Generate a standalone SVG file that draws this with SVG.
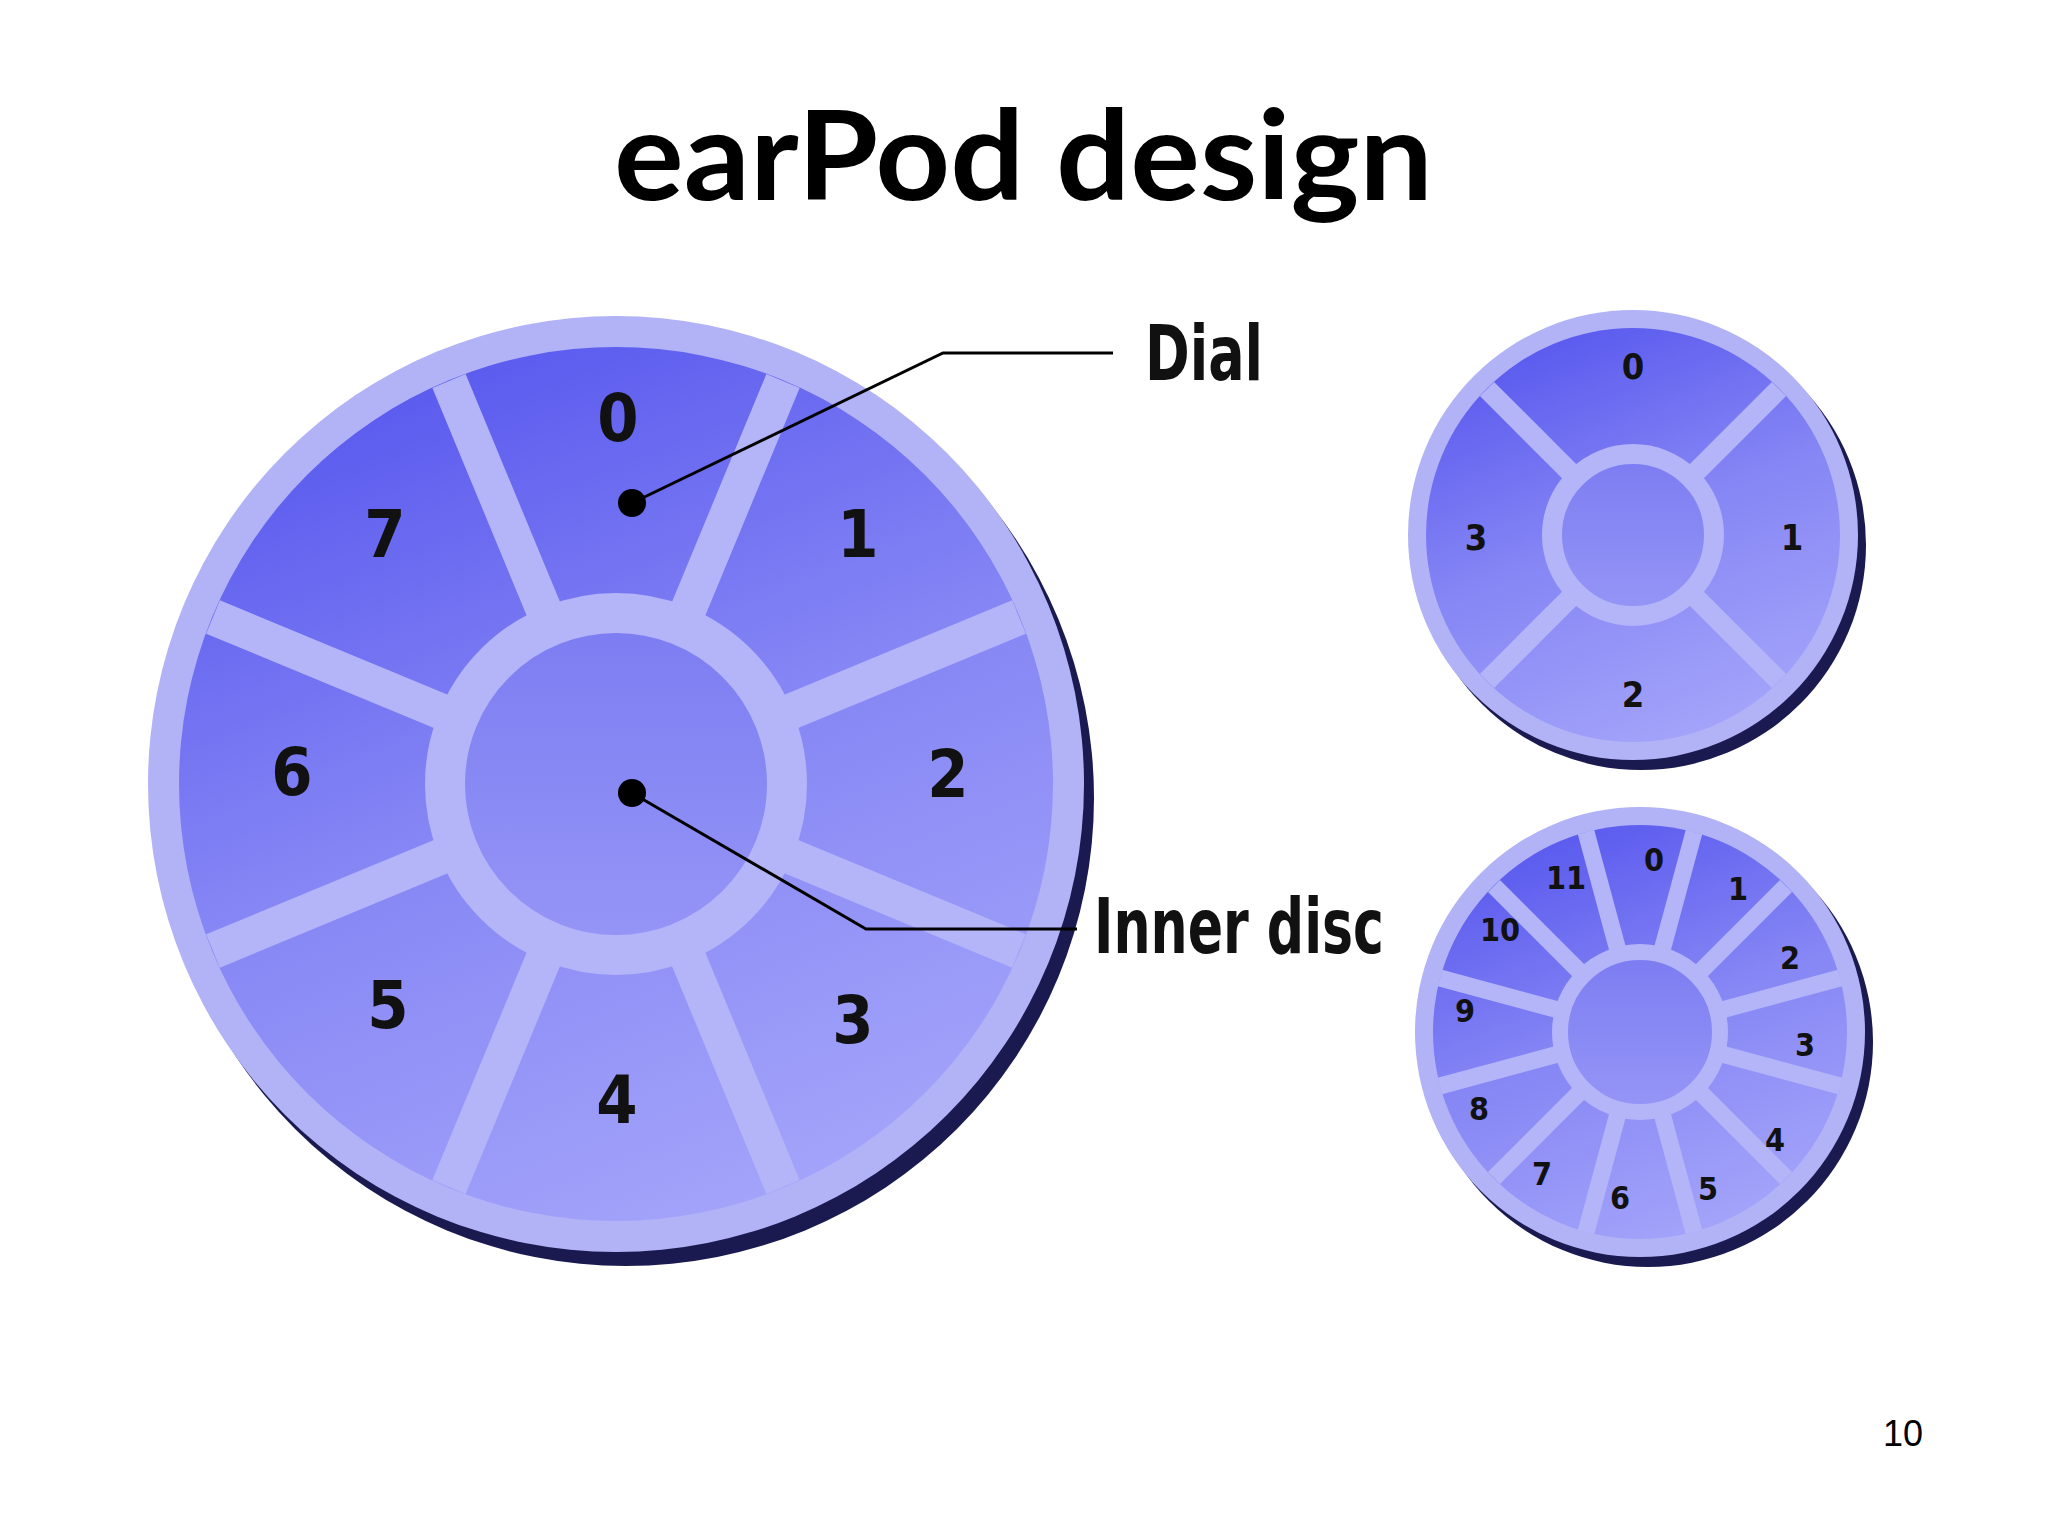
<svg xmlns="http://www.w3.org/2000/svg" width="2048" height="1536" viewBox="0 0 2048 1536">
<defs>
<linearGradient id="g" x1="0.2" y1="0" x2="0.6" y2="1"><stop offset="0" stop-color="#5555ee"/><stop offset="0.5" stop-color="#8585f5"/><stop offset="1" stop-color="#a3a3fa"/></linearGradient>
<linearGradient id="gi" x1="0" y1="0" x2="0" y2="1"><stop offset="0" stop-color="#7c7cf2"/><stop offset="1" stop-color="#9696f7"/></linearGradient>
</defs>
<style>
.rim{fill:#b2b2f7}.face{fill:url(#g)}.sp{stroke:#b4b4f8;stroke-linecap:butt}
.ring{fill:url(#gi);stroke:#b4b4f8}.sh{fill:#1a1a50}
.n{font-family:"DejaVu Sans Condensed","DejaVu Sans",sans-serif;font-weight:bold;fill:#111;text-anchor:middle;dominant-baseline:central}
.lbl{font-family:"DejaVu Sans Condensed","DejaVu Sans",sans-serif;font-weight:bold;fill:#111}
.ln{stroke:#000;stroke-width:3;fill:none}
</style>
<rect width="2048" height="1536" fill="#fff"/>
<text x="614" y="200" font-family="Lato,sans-serif" font-weight="bold" font-size="124" textLength="819" lengthAdjust="spacingAndGlyphs" fill="#000">earPod design</text>

<g id="big">
<circle cx="626" cy="798" r="468" class="sh"/>
<circle cx="616" cy="784" r="468" class="rim"/>
<circle cx="616" cy="784" r="437" class="face"/>
<g class="sp" stroke-width="36">
<line x1="616" y1="784" x2="449" y2="381"/><line x1="616" y1="784" x2="783" y2="381"/>
<line x1="616" y1="784" x2="1019" y2="617"/><line x1="616" y1="784" x2="1019" y2="951"/>
<line x1="616" y1="784" x2="783" y2="1187"/><line x1="616" y1="784" x2="449" y2="1187"/>
<line x1="616" y1="784" x2="213" y2="951"/><line x1="616" y1="784" x2="213" y2="617"/>
</g>
<circle cx="616" cy="784" r="171" class="ring" stroke-width="40"/>
<g class="n" font-size="66">
<text x="618" y="418">0</text><text x="858" y="534">1</text><text x="948" y="774">2</text><text x="853" y="1020">3</text>
<text x="617" y="1100">4</text><text x="388" y="1005">5</text><text x="292" y="772">6</text><text x="385" y="534">7</text>
</g>
</g>

<g id="small4">
<circle cx="1641" cy="545" r="225" class="sh"/>
<circle cx="1633" cy="535" r="225" class="rim"/>
<circle cx="1633" cy="535" r="207" class="face"/>
<g class="sp" stroke-width="20">
<line x1="1633" y1="535" x2="1487" y2="389"/><line x1="1633" y1="535" x2="1779" y2="389"/>
<line x1="1633" y1="535" x2="1779" y2="681"/><line x1="1633" y1="535" x2="1487" y2="681"/>
</g>
<circle cx="1633" cy="535" r="81" class="ring" stroke-width="20"/>
<g class="n" font-size="36">
<text x="1633" y="366">0</text><text x="1792" y="537">1</text><text x="1633" y="694">2</text><text x="1476" y="537">3</text>
</g>
</g>

<g id="small12">
<circle cx="1648" cy="1042" r="225" class="sh"/>
<circle cx="1640" cy="1032" r="225" class="rim"/>
<circle cx="1640" cy="1032" r="207" class="face"/>
<g class="sp" stroke-width="17">
<line x1="1640" y1="1032" x2="1694" y2="832"/><line x1="1640" y1="1032" x2="1786" y2="886"/>
<line x1="1640" y1="1032" x2="1840" y2="978"/><line x1="1640" y1="1032" x2="1840" y2="1086"/>
<line x1="1640" y1="1032" x2="1786" y2="1178"/><line x1="1640" y1="1032" x2="1694" y2="1232"/>
<line x1="1640" y1="1032" x2="1586" y2="1232"/><line x1="1640" y1="1032" x2="1494" y2="1178"/>
<line x1="1640" y1="1032" x2="1440" y2="1086"/><line x1="1640" y1="1032" x2="1440" y2="978"/>
<line x1="1640" y1="1032" x2="1494" y2="886"/><line x1="1640" y1="1032" x2="1586" y2="832"/>
</g>
<circle cx="1640" cy="1032" r="80" class="ring" stroke-width="16"/>
<g class="n" font-size="32">
<text x="1654" y="860">0</text><text x="1738" y="889">1</text><text x="1790" y="958">2</text><text x="1805" y="1045">3</text>
<text x="1775" y="1140">4</text><text x="1708" y="1189">5</text><text x="1620" y="1198">6</text><text x="1542" y="1174">7</text>
<text x="1479" y="1109">8</text><text x="1465" y="1011">9</text><text x="1500" y="930">10</text><text x="1566" y="878">11</text>
</g>
</g>

<g id="connectors">
<circle cx="632" cy="503" r="14" fill="#000"/>
<polyline class="ln" points="632,503 943,353 1113,353"/>
<circle cx="632" cy="793" r="14" fill="#000"/>
<polyline class="ln" points="632,793 866,929 1077,929"/>
</g>
<text x="1145" y="380" class="lbl" font-size="76" textLength="118" lengthAdjust="spacingAndGlyphs">Dial</text>
<text x="1094" y="953" class="lbl" font-size="76" textLength="290" lengthAdjust="spacingAndGlyphs">Inner disc</text>
<text x="1903" y="1446" font-family="Liberation Sans,sans-serif" font-size="36" text-anchor="middle" fill="#000">10</text>
</svg>
